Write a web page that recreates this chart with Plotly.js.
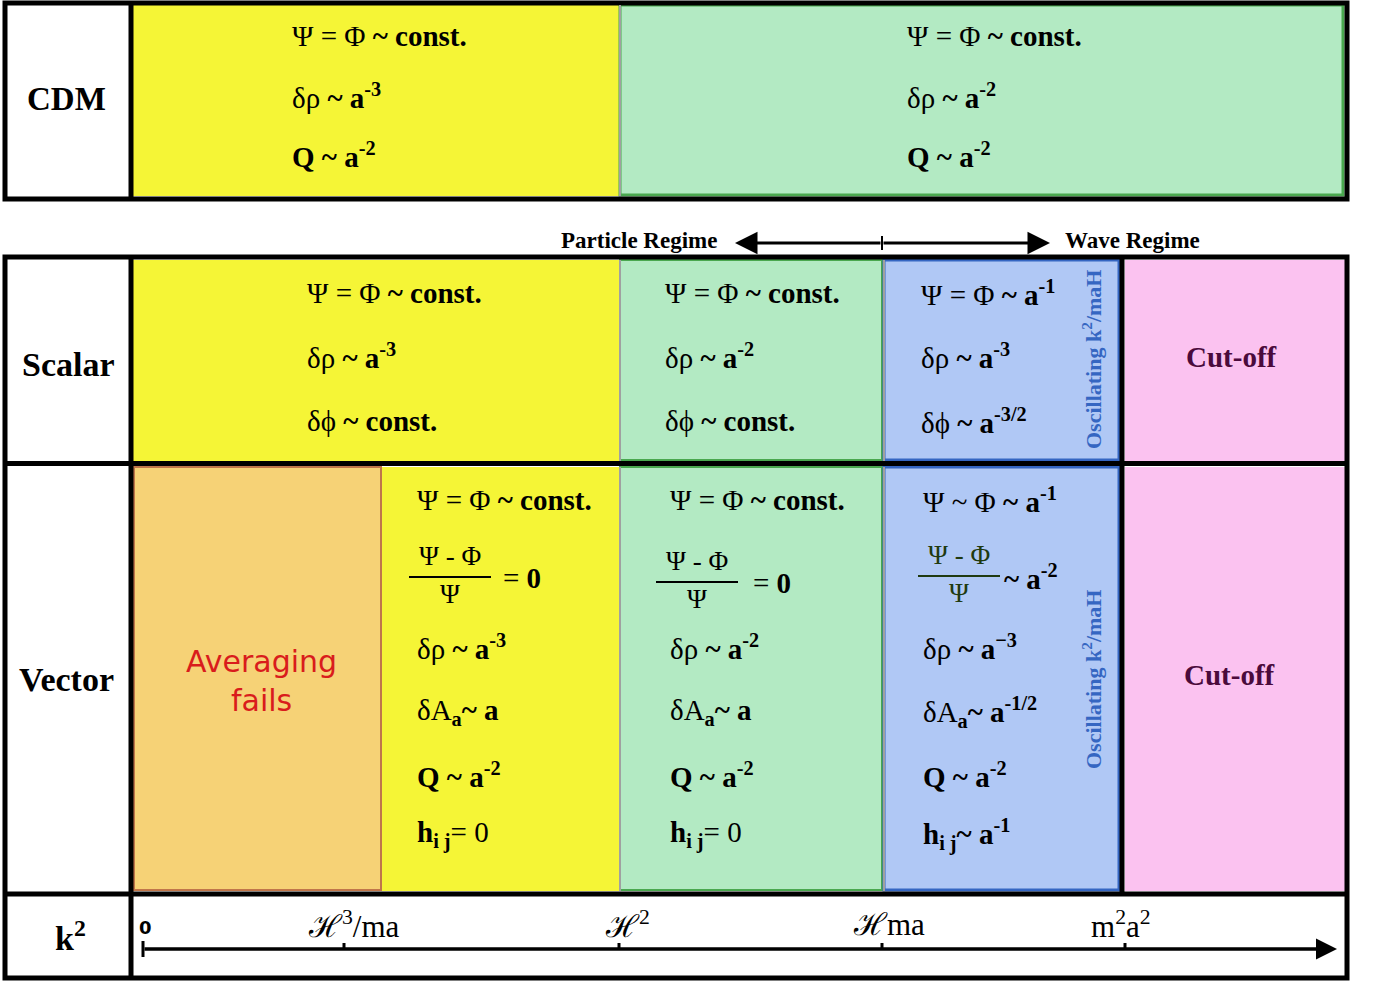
<!DOCTYPE html>
<html>
<head>
<meta charset="utf-8">
<script src="https://cdn.plot.ly/plotly-3.0.1.min.js"></script>
<style>
  html, body { margin: 0; padding: 0; background: #fff; }
  #myPlot { width: 1374px; height: 983px; }
</style>
</head>
<body>
<div id="myPlot"></div>
<script>
// ---- chart content ----
var rowLabels = ['CDM', 'Scalar', 'Vector', 'k<sup>2</sup>'];
var regimeLabels = ['Particle Regime', 'Wave Regime'];
var k2TickLabels = ['0', 'ℋ<sup>3</sup>/ma', 'ℋ<sup>2</sup>', 'ℋma', 'm<sup>2</sup>a<sup>2</sup>'];

var cdmEarly = ['Ψ = Φ <b>~ const.</b>', 'δρ <b>~ a</b><sup><b>-3</b></sup>', '<b>Q ~ a</b><sup><b>-2</b></sup>'];
var cdmLate = ['Ψ = Φ <b>~ const.</b>', 'δρ <b>~ a</b><sup><b>-2</b></sup>', '<b>Q ~ a</b><sup><b>-2</b></sup>'];

var scalarEarly = ['Ψ = Φ <b>~ const.</b>', 'δρ <b>~ a</b><sup><b>-3</b></sup>', 'δϕ <b>~ const.</b>'];
var scalarMid = ['Ψ = Φ <b>~ const.</b>', 'δρ <b>~ a</b><sup><b>-2</b></sup>', 'δϕ <b>~ const.</b>'];
var scalarWave = ['Ψ = Φ <b>~ a</b><sup><b>-1</b></sup>', 'δρ <b>~ a</b><sup><b>-3</b></sup>', 'δϕ <b>~ a</b><sup><b>-3/2</b></sup>'];

var vectorEarly = ['Ψ = Φ <b>~ const.</b>', null, 'δρ <b>~ a</b><sup><b>-3</b></sup>', 'δA<sub><b>a</b></sub><b>~ a</b>', '<b>Q ~ a</b><sup><b>-2</b></sup>', '<b>h</b><sub><b>i j</b></sub>= 0'];
var vectorMid = ['Ψ = Φ <b>~ const.</b>', null, 'δρ <b>~ a</b><sup><b>-2</b></sup>', 'δA<sub><b>a</b></sub><b>~ a</b>', '<b>Q ~ a</b><sup><b>-2</b></sup>', '<b>h</b><sub><b>i j</b></sub>= 0'];
var vectorWave = ['Ψ ~ Φ <b>~ a</b><sup><b>-1</b></sup>', null, 'δρ <b>~ a</b><sup><b>−3</b></sup>', 'δA<sub><b>a</b></sub><b>~ a</b><sup><b>-1/2</b></sup>', '<b>Q ~ a</b><sup><b>-2</b></sup>', '<b>h</b><sub><b>i j</b></sub><b>~ a</b><sup><b>-1</b></sup>'];

var fracNum = 'Ψ - Φ';
var fracDen = 'Ψ';
var fracRhs = ['= <b>0</b>', '= <b>0</b>', '<b>~ a</b><sup><b>-2</b></sup>'];

var oscLabel = '<b>Oscillating k<sup>2</sup>/maH</b>';
var cutLabel = '<b>Cut-off</b>';
var avgLabel = 'Averaging<br>fails';

// ---- geometry (pixel coordinates of the picture) ----
var k2TickX = [143, 344, 619, 882, 1125];
var colL = 133, colR = 1345;
var cdmY = [5, 196];
var scalarY = [260, 461];
var vectorY = [467, 891];

var cdmLineY = [36, 96, 155];
var scalarLineY = [293, 356, 421];
var vectorLineY = [500, 578, 647, 712, 775, 834];

var C = {
  yellow: '#f5f536', green: '#b3eac3', blue: '#b0c8f5', pink: '#fbc2f0', orange: '#f6d276',
  greenEdge: '#4aa84f', blueEdge: '#3566c2', orangeEdge: '#c0764a', gray: '#a0a0a0'
};

var serif = 'Liberation Serif, DejaVu Serif, serif';
var FS = 29;
var shapes = [];
var ann = [];

function rect(x0, x1, y0, y1, fill, edge, w) {
  shapes.push({type: 'rect', xref: 'x', yref: 'y', x0: x0, x1: x1, y0: y0, y1: y1,
    fillcolor: fill, line: {color: edge || fill, width: w || 0}, layer: 'below'});
}
function line(x0, y0, x1, y1, color, w) {
  shapes.push({type: 'line', xref: 'x', yref: 'y', x0: x0, x1: x1, y0: y0, y1: y1,
    line: {color: color, width: w}});
}
function text(x, y, t, opt) {
  opt = opt || {};
  ann.push({x: x, y: y, xref: 'x', yref: 'y', text: t, showarrow: false,
    xanchor: opt.xa || 'left', yanchor: 'middle', textangle: opt.angle || 0,
    font: {family: opt.family || serif, size: opt.size || FS, color: opt.color || '#000'}});
}
function lines(x, ys, arr) {
  arr.forEach(function (t, i) { if (t) text(x, ys[i], t); });
}
function fraction(cx, y, half, rhs, rhsX, color) {
  text(cx, y - 22, fracNum, {xa: 'center', size: 27, color: color});
  line(cx - half, y - 1, cx + half, y - 1, color, 2);
  text(cx, y + 16, fracDen, {xa: 'center', size: 27, color: color});
  text(rhsX, y, rhs);
}

// ---- CDM block ----
rect(colL, 619, cdmY[0], cdmY[1], C.yellow);
rect(620, 1343, cdmY[0], cdmY[1] - 1, C.green, C.greenEdge, 3);
line(620, cdmY[0], 620, cdmY[1], C.gray, 2);
rect(5, 1347, 3, 199, 'rgba(0,0,0,0)', '#000', 5);
line(131, 3, 131, 199, '#000', 5);
text(66, 99, '<b>' + rowLabels[0] + '</b>', {xa: 'center', size: 33});
lines(290, cdmLineY, cdmEarly);
lines(905, cdmLineY, cdmLate);

// ---- regime arrow ----
text(719, 240, '<b>' + regimeLabels[0] + '</b>', {xa: 'right', size: 23});
text(1063, 240, '<b>' + regimeLabels[1] + '</b>', {xa: 'left', size: 23});
[735, 1050].forEach(function (xe) {
  ann.push({x: xe, y: 243, ax: 882, ay: 243, axref: 'x', ayref: 'y', xref: 'x', yref: 'y',
    text: '', showarrow: true, arrowhead: 2, arrowsize: 1.5, arrowwidth: 3, arrowcolor: '#000'});
});
line(882, 236, 882, 250, '#000', 2);

// ---- scalar row ----
rect(colL, 619, scalarY[0], scalarY[1], C.yellow);
rect(620, 882, scalarY[0], scalarY[1] - 1, C.green, C.greenEdge, 2);
line(620, scalarY[0], 620, scalarY[1], C.gray, 2);
rect(884, 1119, scalarY[0], scalarY[1] - 1, C.blue, C.blueEdge, 3);
line(884, scalarY[0], 884, scalarY[1], C.gray, 2);
rect(1125, colR, scalarY[0], scalarY[1], C.pink);

// ---- vector row ----
rect(134, 381, vectorY[0], vectorY[1] - 1, C.orange, C.orangeEdge, 2);
rect(382, 619, vectorY[0], vectorY[1], C.yellow);
rect(620, 882, vectorY[0], vectorY[1] - 1, C.green, C.greenEdge, 2);
line(620, vectorY[0], 620, vectorY[1], C.gray, 2);
rect(884, 1119, vectorY[0], vectorY[1] - 1, C.blue, C.blueEdge, 3);
line(884, vectorY[0], 884, vectorY[1], C.gray, 2);
rect(1125, colR, vectorY[0], vectorY[1], C.pink);

// ---- table frame ----
rect(5, 1347, 257, 978, 'rgba(0,0,0,0)', '#000', 5);
line(5, 463.5, 1347, 463.5, '#000', 5);
line(5, 894, 1347, 894, '#000', 5);
line(131, 257, 131, 978, '#000', 5);
line(1122, 257, 1122, 894, '#000', 5);

text(68, 364, '<b>' + rowLabels[1] + '</b>', {xa: 'center', size: 34});
text(66, 679, '<b>' + rowLabels[2] + '</b>', {xa: 'center', size: 34});
text(70, 936, '<b>' + rowLabels[3] + '</b>', {xa: 'center', size: 34});

lines(305, scalarLineY, scalarEarly);
lines(663, scalarLineY, scalarMid);
lines(919, scalarLineY, scalarWave);

lines(415, vectorLineY, vectorEarly);
lines(668, vectorLineY, vectorMid);
lines(921, vectorLineY, vectorWave);
fraction(450, 578, 41, fracRhs[0], 501, '#000');
fraction(697, 583, 41, fracRhs[1], 751, '#000');
fraction(959, 577, 41, fracRhs[2], 1002, '#1f3a10');

text(1092, 360, oscLabel, {xa: 'center', size: 22, color: C.blueEdge, angle: -90});
text(1092, 680, oscLabel, {xa: 'center', size: 22, color: C.blueEdge, angle: -90});
text(1231, 357, cutLabel, {xa: 'center', size: 29, color: '#4a0a3c'});
text(1229, 675, cutLabel, {xa: 'center', size: 29, color: '#4a0a3c'});
text(261, 681, avgLabel, {xa: 'center', size: 30, color: '#d91c1c', family: 'DejaVu Sans, sans-serif'});

// ---- k^2 axis ----
ann.push({x: 1337, y: 949, ax: 143, ay: 949, axref: 'x', ayref: 'y', xref: 'x', yref: 'y',
  text: '', showarrow: true, arrowhead: 2, arrowsize: 1.2, arrowwidth: 3.5, arrowcolor: '#000'});
line(143, 941, 143, 957, '#000', 3);
k2TickX.slice(1).forEach(function (x) { line(x, 943, x, 949, '#000', 3); });
text(145, 927, '<b>' + k2TickLabels[0] + '</b>', {xa: 'center', size: 18, family: 'DejaVu Sans, sans-serif'});
var labelX = [145, 354, 627, 889, 1121];
k2TickLabels.slice(1).forEach(function (t, i) {
  text(labelX[i + 1], 924, t, {xa: 'center', size: 31, family: serif});
});

var layout = {
  width: 1374, height: 983,
  margin: {l: 0, r: 0, t: 0, b: 0},
  paper_bgcolor: '#fff', plot_bgcolor: '#fff',
  xaxis: {range: [0, 1374], visible: false, fixedrange: true},
  yaxis: {range: [983, 0], visible: false, fixedrange: true},
  shapes: shapes, annotations: ann, showlegend: false
};

Plotly.newPlot('myPlot', [], layout, {displayModeBar: false});
</script>
</body>
</html>
